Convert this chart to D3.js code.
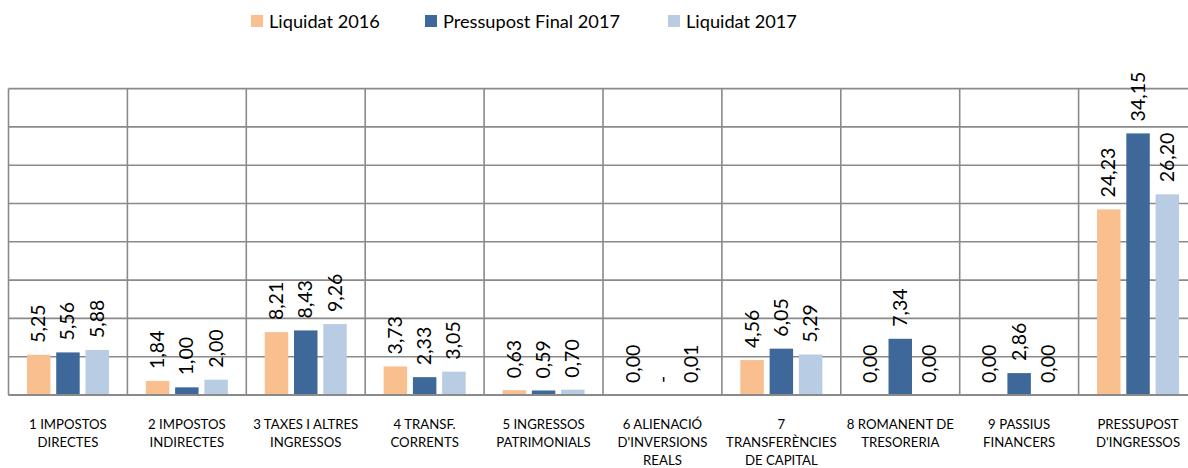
<!DOCTYPE html>
<html><head><meta charset="utf-8">
<script src="https://cdn.jsdelivr.net/npm/d3@7"></script>
<style>body{margin:0;background:#fff}svg{display:block}</style>
</head><body><svg id="c" width="1188" height="468"></svg>
<script>
const categories = [
  "1 IMPOSTOS\nDIRECTES",
  "2 IMPOSTOS\nINDIRECTES",
  "3 TAXES I ALTRES\nINGRESSOS",
  "4 TRANSF.\nCORRENTS",
  "5 INGRESSOS\nPATRIMONIALS",
  "6 ALIENACIÓ\nD'INVERSIONS\nREALS",
  "7\nTRANSFERÈNCIES\nDE CAPITAL",
  "8 ROMANENT DE\nTRESORERIA",
  "9 PASSIUS\nFINANCERS",
  "PRESSUPOST\nD'INGRESSOS"
];
const seriesNames = ["Liquidat 2016", "Pressupost Final 2017", "Liquidat 2017"];
const liquidat2016 = [5.25, 1.84, 8.21, 3.73, 0.63, 0.001, 4.56, 0.001, 0.001, 24.23];
const pressupost2017 = [5.56, 1.00, 8.43, 2.33, 0.59, 0, 6.05, 7.34, 2.86, 34.15];
const liquidat2017 = [5.88, 2.00, 9.26, 3.05, 0.70, 0.01, 5.29, 0.001, 0.001, 26.20];
const yTicks = [0, 5, 10, 15, 20, 25, 30, 35, 40];
const colors = ["#F9BF8F", "#3E6899", "#B8CCE4"];

(function(){
const seriesValues = [liquidat2016, pressupost2017, liquidat2017];
const svg = d3.select("#c");
svg.append("rect").attr("width",1188).attr("height",468).attr("fill","#fff");

const pl = 8.5, pr = 8.5 + 118.9*10, pt = 88.6, pb = 395;
const x0 = d3.scaleBand().domain(categories).range([pl, pr]).padding(0);
const x1 = d3.scaleBand().domain(seriesNames).range([0, x0.bandwidth()]).paddingInner(0.198).paddingOuter(0.63);
const y = d3.scaleLinear().domain([0, 40]).range([pb, pt]);

const grid = svg.append("g");
grid.selectAll("line.h").data(yTicks).join("line").attr("class","h")
  .attr("x1", pl).attr("x2", pr).attr("y1", d=>y(d)).attr("y2", d=>y(d))
  .attr("stroke", "#8a8a8a").attr("stroke-width", 1.6);
const bounds = categories.map(c=>x0(c)).concat([pr]);
grid.selectAll("line.v").data(bounds).join("line").attr("class","v")
  .attr("x1", d=>d).attr("x2", d=>d).attr("y1", pt).attr("y2", pb)
  .attr("stroke", "#8a8a8a").attr("stroke-width", 1.6);

const fmt = v => v === 0 ? "-" : d3.format(".2f")(v).replace(".", ",");

seriesNames.forEach((s, si) => {
  const g = svg.append("g");
  const vals = seriesValues[si];
  g.selectAll("rect").data(vals).join("rect")
    .attr("x", (d,i)=>x0(categories[i]) + x1(s))
    .attr("width", x1.bandwidth())
    .attr("y", d=>y(d))
    .attr("height", d=>pb - y(d))
    .attr("fill", colors[si]);
  g.selectAll("text").data(vals).join("text")
    .attr("transform", (d,i)=>{
      const cx = x0(categories[i]) + x1(s) + x1.bandwidth()/2;
      return `translate(${cx + 6.5},${y(d) - 12}) rotate(-90)`;
    })
    .attr("font-family", "Lato, sans-serif").attr("font-size", 19.5)
    .attr("fill", "#000").text(d=>fmt(d));
});

svg.append("line").attr("x1", pl).attr("x2", pr).attr("y1", pb).attr("y2", pb)
  .attr("stroke", "#8a8a8a").attr("stroke-width", 2);

const cl = svg.append("g");
categories.forEach(c => {
  const t = cl.append("text").attr("text-anchor","middle")
    .attr("font-family","Lato, sans-serif").attr("font-size",13.2).attr("fill","#000");
  c.split("\n").forEach((line, li) => {
    t.append("tspan").attr("x", x0(c) + x0.bandwidth()/2).attr("y", 429 + li*18).text(line);
  });
});

const legX = [251, 425, 668];
const lg = svg.append("g");
seriesNames.forEach((s, i) => {
  lg.append("rect").attr("x", legX[i]).attr("y", 15).attr("width", 12).attr("height", 12).attr("fill", colors[i]);
  lg.append("text").attr("x", legX[i] + 18).attr("y", 28).attr("font-family","Lato, sans-serif")
    .attr("font-size", 18.2).attr("fill","#000").text(s);
});
})();
</script></body></html>
